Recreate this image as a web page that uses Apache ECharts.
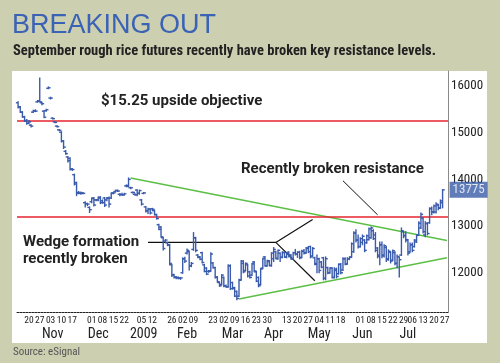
<!DOCTYPE html>
<html><head><meta charset="utf-8">
<script src="https://cdn.jsdelivr.net/npm/echarts@6/dist/echarts.min.js"></script>
<style>html,body{margin:0;padding:0;background:#cccfb0}#c{width:500px;height:363px}</style>
</head><body><div id="c"></div>
<script>
// ---- data ----
const startDate = '2008-10-13';
const endDate = '2009-07-28';
const holidays = ['2008-11-27','2008-12-25','2009-01-01','2009-01-19','2009-02-16','2009-04-10','2009-05-25','2009-07-03'];
const tickDates = ['2008-10-20','2008-10-27','2008-11-03','2008-11-10','2008-11-17','2008-12-01','2008-12-08','2008-12-15','2008-12-22','2009-01-05','2009-01-12','2009-01-26','2009-02-02','2009-02-09','2009-02-23','2009-03-02','2009-03-09','2009-03-16','2009-03-23','2009-03-30','2009-04-13','2009-04-20','2009-04-27','2009-05-04','2009-05-11','2009-05-18','2009-06-01','2009-06-08','2009-06-15','2009-06-22','2009-06-29','2009-07-06','2009-07-13','2009-07-20','2009-07-27'];
const monthDates = ['2008-11-04','2008-12-04','2009-01-06','2009-02-04','2009-03-06','2009-04-02','2009-05-04','2009-06-02','2009-07-01'];
const monthNames = ['Nov','Dec','2009','Feb','Mar','Apr','May','Jun','Jul'];
const yTicks = [12000,13000,14000,15000,16000];

const opens = [
15640,15550,15440,15340,15260,15200,15160,15440,15470,15660,
15680,15640,15460,15470,15950,15740,15310,15230,15140,15060,
15010,14820,14600,14480,14450,14220,14100,13930,13720,13710,
13710,13500,13480,13400,13520,13600,13560,13560,13620,13540,
13600,13560,13600,13600,13710,13740,13760,13680,13680,13670,
13860,13850,13820,13720,13680,13770,13700,13560,13700,13410,
13330,13360,13370,13330,13240,13030,12980,12750,12680,12640,
12600,12170,11960,11910,11900,11880,12000,12300,12420,12450,
12150,12500,12750,12380,12340,12430,12170,12100,12030,12040,
12210,12110,11910,11790,11750,11900,11720,11700,12150,11790,
11680,11600,11500,11850,12250,12050,12170,12020,11950,12230,
12020,11900,11750,12100,12340,12150,12240,12150,12300,12450,
12300,12420,12330,12430,12330,12440,12380,12300,12430,12400,
12440,12330,12460,12430,12520,12560,12360,12320,12200,12300,
12230,12320,11880,12110,12000,12100,11900,12050,11980,12180,
12060,12300,12190,12300,12340,12450,12850,12700,12560,12650,
12700,12640,12710,12750,12900,12810,12530,12380,12600,12360,
12540,12300,12440,12270,12430,12200,12340,12380,12880,12800,
12710,12450,12600,12560,12660,12810,12960,13170,12810,13060,
13070,13380,13300,13300,13450,13390,13500];
const highs = [
15660,15560,15450,15350,15280,15260,15170,15480,15490,15690,
16170,15650,15470,15500,15980,15760,15320,15240,15150,15070,
15020,14830,14620,14490,14460,14230,14110,13940,13740,13730,
13720,13520,13490,13410,13600,13610,13570,13620,13630,13560,
13610,13610,13620,13710,13720,13770,13770,13690,13700,13700,
13880,14030,13830,13730,13690,13780,13770,13570,13720,13420,
13380,13370,13380,13340,13250,13040,12990,12760,12710,12650,
12610,12180,11970,11920,11910,11900,12320,12330,12510,12460,
12220,12860,12760,12390,12350,12440,12180,12110,12050,12430,
12220,12120,11920,11800,11960,11910,11740,12170,12170,11800,
11690,11610,11860,12260,12260,12210,12180,12030,12200,12240,
12030,11910,12090,12310,12350,12270,12260,12430,12540,12460,
12490,12430,12450,12440,12430,12450,12390,12440,12500,12450,
12460,12480,12500,12540,12560,12570,12540,12330,12380,12310,
12240,12330,12340,12120,12110,12110,12110,12100,12190,12200,
12320,12320,12320,12340,12640,12880,12920,12810,12750,12810,
12710,12810,12960,12980,12920,12860,12540,12660,12660,12600,
12560,12490,12450,12490,12450,12380,12340,12960,12890,12880,
12710,12640,12640,12710,12810,13090,13280,13180,13090,13070,
13390,13410,13450,13500,13460,13560,13780];
const lows = [
15530,15430,15330,15240,15180,15190,15120,15430,15450,15650,
15660,15600,15320,15460,15940,15720,15290,15210,15120,15040,
14800,14660,14540,14370,14200,14190,13880,13650,13690,13680,
13690,13410,13440,13290,13500,13430,13540,13540,13480,13490,
13420,13540,13410,13590,13690,13730,13740,13650,13660,13660,
13840,13840,13800,13710,13660,13650,13680,13450,13690,13300,
13270,13260,13330,13240,13150,12920,12760,12490,12660,12580,
12170,11920,11890,11870,11870,11860,11990,12220,12400,12060,
12130,12480,12450,12320,12280,12210,12020,11960,12010,12030,
12100,11890,11800,11710,11740,11700,11690,11690,11640,11650,
11490,11420,11490,11840,12000,12040,11910,11890,11940,12020,
11810,11700,11740,12090,12140,12140,12150,12140,12240,12300,
12290,12240,12320,12330,12320,12340,12290,12290,12380,12330,
12300,12320,12400,12420,12430,12320,12350,12170,12000,12000,
12110,11850,11850,11980,11990,11890,11890,11890,11970,11980,
12050,12170,12180,12280,12330,12440,12660,12530,12550,12600,
12450,12630,12700,12740,12710,12450,12320,12170,12320,12340,
12240,12270,12210,12260,12170,12110,11910,12370,12750,12660,
12380,12440,12450,12550,12650,12800,12950,12850,12770,12810,
13060,13240,13280,13280,13350,13380,13390];
const closes = [
15550,15440,15340,15250,15200,15230,15140,15460,15460,15670,
15660,15620,15330,15490,15960,15740,15300,15220,15130,15050,
14820,14690,14550,14400,14220,14210,13900,13700,13700,13700,
13700,13480,13470,13350,13590,13450,13560,13600,13500,13500,
13450,13600,13470,13700,13710,13760,13750,13670,13670,13690,
13870,14000,13820,13720,13670,13700,13760,13470,13710,13320,
13360,13280,13360,13250,13160,12930,12770,12520,12700,12590,
12200,11950,11900,11890,11890,11890,12300,12250,12480,12150,
12200,12750,12480,12330,12290,12220,12030,11970,12030,12400,
12110,11900,11810,11720,11950,11720,11700,12150,11660,11660,
11500,11450,11840,12200,12020,12200,11930,11900,12190,12040,
11820,11720,12080,12300,12150,12260,12160,12420,12500,12310,
12480,12330,12440,12340,12420,12350,12300,12430,12400,12440,
12320,12460,12420,12530,12450,12340,12520,12180,12300,12050,
12120,11880,12300,12000,12100,11900,12080,11920,12180,12000,
12300,12180,12300,12330,12620,12850,12700,12560,12730,12780,
12480,12790,12940,12960,12730,12480,12350,12600,12380,12580,
12280,12460,12250,12470,12200,12350,12280,12900,12790,12700,
12420,12600,12480,12700,12800,13060,13250,12880,13050,12840,
13370,13300,13430,13470,13380,13540,13775];

const lastDate = '2009-07-24';
const lastPrice = 13775;
const objectiveLevel = 15250;
const resistanceLevel = 13200;
const upperWedge = [['2008-12-26', 14030], ['2009-07-28', 12690]];
const lowerWedge = [['2009-03-11', 11440], ['2009-07-28', 12320]];
const wedgePointerUp = [['2009-01-08', 12650], ['2009-04-03', 12650], ['2009-04-29', 13140]];
const wedgePointerDown = [['2009-04-03', 12650], ['2009-04-30', 11830]];
const resistancePointer = [['2009-05-19', 13970], ['2009-06-11', 13240]];

// ---- build ----
function tradingDays(start, end, hol) {
  const out = [];
  const d = new Date(start + 'T00:00:00Z');
  const e = new Date(end + 'T00:00:00Z');
  while (d <= e) {
    const w = d.getUTCDay();
    const s = d.toISOString().slice(0, 10);
    if (w !== 0 && w !== 6 && hol.indexOf(s) < 0) out.push(s);
    d.setUTCDate(d.getUTCDate() + 1);
  }
  return out;
}
const categories = tradingDays(startDate, endDate, holidays);
const tickSet = new Set(tickDates);
const monthMap = {};
monthDates.forEach((d, i) => monthMap[d] = monthNames[i]);
const ohlc = opens.map((o, i) => [i, o, highs[i], lows[i], closes[i]]);

const NARROW = "'Roboto Condensed','DejaVu Sans Condensed','DejaVu Sans',sans-serif";
const BOLD = "'Roboto','Liberation Sans',sans-serif";
const barColor = '#3a5bab';

const chart = echarts.init(document.getElementById('c'), null, {renderer: 'canvas'});
chart.setOption({
  backgroundColor: '#cccfb0',
  animation: false,
  grid: {left: 17, right: 52, top: 71, bottom: 51, containLabel: false},
  xAxis: [{
    type: 'category', data: categories, boundaryGap: true,
    axisLine: {show: true, lineStyle: {color: '#222', width: 1, type: [2, 1]}},
    axisTick: {show: false},
    axisLabel: {interval: (i, v) => tickSet.has(v), formatter: v => v.slice(8), hideOverlap: false,
      fontStyle: 'condensed', fontFamily: NARROW, fontSize: 9.5, color: '#222', margin: 4},
    splitLine: {show: false}
  }, {
    type: 'category', data: categories, boundaryGap: true, position: 'bottom',
    axisLine: {show: false}, axisTick: {show: false},
    axisLabel: {interval: (i, v) => v in monthMap, formatter: v => monthMap[v] || '', hideOverlap: false,
      fontStyle: 'condensed', fontFamily: NARROW, fontSize: 14, color: '#222', margin: 15},
    splitLine: {show: false}
  }],
  yAxis: {
    type: 'value', position: 'right', min: 11160, max: 16320, interval: 40,
    axisLine: {show: true, lineStyle: {color: '#8a8a8a', width: 1}},
    axisTick: {show: false}, splitLine: {show: false},
    axisLabel: {formatter: v => yTicks.indexOf(v) >= 0 ? String(v) : '',
      fontStyle: 'condensed', fontFamily: NARROW, fontSize: 13, color: '#222', margin: 3,
      showMinLabel: true, showMaxLabel: true}
  },
  series: [{
    type: 'line', data: upperWedge, symbol: 'none', silent: true,
    lineStyle: {color: '#5cbf45', width: 1.5}, z: 3,
    markLine: {silent: true, symbol: 'none', label: {show: false},
      lineStyle: {color: '#e4252c', width: 1.5, type: 'solid'},
      data: [{yAxis: objectiveLevel}, {yAxis: resistanceLevel}]}
  }, {
    type: 'line', data: lowerWedge, symbol: 'none', silent: true,
    lineStyle: {color: '#5cbf45', width: 1.5}, z: 3
  }, {
    type: 'line', data: wedgePointerUp, symbol: 'none', silent: true,
    lineStyle: {color: '#111', width: 1.2}, z: 4
  }, {
    type: 'line', data: wedgePointerDown, symbol: 'none', silent: true,
    lineStyle: {color: '#111', width: 1.2}, z: 4
  }, {
    type: 'line', data: resistancePointer, symbol: 'none', silent: true,
    lineStyle: {color: '#111', width: 1}, z: 4
  }, {
    type: 'custom', data: ohlc, encode: {x: 0, y: [1, 2, 3, 4]}, z: 5,
    renderItem: function (params, api) {
      const idx = api.value(0);
      const x = api.coord([idx, api.value(1)])[0];
      const yo = api.coord([idx, api.value(1)])[1];
      const yh = api.coord([idx, api.value(2)])[1];
      const yl = api.coord([idx, api.value(3)])[1];
      const yc = api.coord([idx, api.value(4)])[1];
      const st = {stroke: barColor, lineWidth: 1.4};
      return {type: 'group', children: [
        {type: 'line', shape: {x1: x, y1: yh - 0.5, x2: x, y2: yl + 0.5}, style: st},
        {type: 'line', shape: {x1: x - 2.2, y1: yo, x2: x, y2: yo}, style: st},
        {type: 'line', shape: {x1: x, y1: yc, x2: x + 2.2, y2: yc}, style: st}
      ]};
    }
  }, {
    type: 'scatter', data: [[lastDate, lastPrice]], clip: false, silent: true, z: 10,
    symbol: 'rect', symbolSize: [38, 16], symbolOffset: [26, 0],
    itemStyle: {color: '#3a5ca8'},
    label: {show: true, position: 'inside', formatter: () => String(lastPrice),
      color: '#fff', fontStyle: 'condensed', fontFamily: NARROW, fontSize: 13}
  }],
  graphic: [
    {type: 'rect', z: -10, shape: {x: 12, y: 71, width: 475, height: 272}, style: {fill: '#ffffff'}},
    {type: 'text', x: 12, y: 26, style: {text: 'BREAKING OUT', fill: '#3a62b5', font: "27px 'Liberation Sans', sans-serif", verticalAlign: 'middle'}},
    {type: 'text', x: 13, y: 51, style: {text: 'September rough rice futures recently have broken key resistance levels.', fill: '#222', font: "condensed bold 14.5px " + NARROW, verticalAlign: 'middle'}},
    {type: 'text', x: 101, y: 101, z: 20, style: {text: '$15.25 upside objective', fill: '#222', font: "bold 15px " + BOLD, verticalAlign: 'middle'}},
    {type: 'text', x: 241, y: 169, z: 20, style: {text: 'Recently broken resistance', fill: '#222', font: "bold 15px " + BOLD, verticalAlign: 'middle'}},
    {type: 'text', x: 23, y: 242, z: 20, style: {text: 'Wedge formation', fill: '#222', font: "bold 15px " + BOLD, verticalAlign: 'middle'}},
    {type: 'text', x: 23, y: 259, z: 20, style: {text: 'recently broken', fill: '#222', font: "bold 15px " + BOLD, verticalAlign: 'middle'}},
    {type: 'text', x: 13, y: 352, style: {text: 'Source: eSignal', fill: '#555', font: "condensed 11px " + NARROW, verticalAlign: 'middle'}}
  ]
});
</script></body></html>
